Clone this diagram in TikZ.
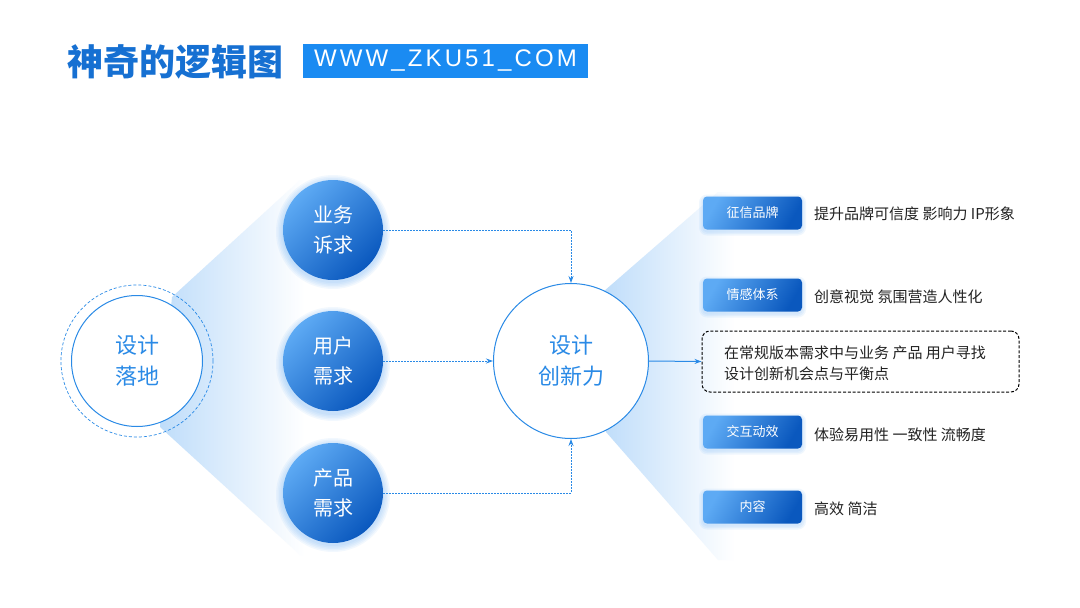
\documentclass[tikz,border=0pt]{standalone}
\usepackage{fontspec}
\setmainfont{Noto Sans CJK SC}
\newfontfamily\latinwide[LetterSpace=13]{Liberation Sans}
\usetikzlibrary{arrows.meta}
\definecolor{mainblue}{HTML}{2A8AE6}
\definecolor{lightb}{HTML}{5DAAF4}
\definecolor{darkb}{HTML}{0A58BE}
\definecolor{fanb}{HTML}{BFDDFA}
\definecolor{glowb}{HTML}{6FB2F5}
\definecolor{titleb}{HTML}{1670D2}
\definecolor{webb}{HTML}{1A8BF2}
\definecolor{txt}{HTML}{222222}
\tikzset{
  bcirc/.style={circle, minimum size=100, inner sep=0, top color=lightb, bottom color=darkb, shading angle=45, text=white, align=center, font=\fontsize{20}{30}\selectfont},
  wcirc/.style={circle, draw=mainblue, line width=1, fill=white, inner sep=0, text=mainblue, align=center, font=\fontsize{22}{31}\selectfont},
  tagbox/.style={rectangle, rounded corners=4, minimum width=99, minimum height=33, inner sep=0, top color=lightb, bottom color=darkb, shading angle=60, text=white, font=\fontsize{13}{15}\selectfont},
  desc/.style={anchor=west, inner sep=0, text=txt, font=\fontsize{15}{17}\selectfont},
  dotarrow/.style={draw=mainblue, line width=0.9, dash pattern=on 1.6 off 1.4, -{Stealth[length=7,width=5]}},
  solarrow/.style={draw=mainblue, line width=1, -{Stealth[length=7,width=5]}},
}
\begin{document}
\begin{tikzpicture}[x=1pt,y=1pt]
\useasboundingbox (0,0) rectangle (1080,-608);
\fill[white] (0,0) rectangle (1080,-608);

% title
\node[anchor=west, inner sep=0, text=titleb, font=\fontsize{36}{40}\selectfont\bfseries] (title) at (67,-62) {神奇的逻辑图};
\node[rectangle, fill=webb, minimum width=285, minimum height=34, inner sep=0, text=white, font=\latinwide\fontsize{24}{28}\selectfont] (web) at (445.5,-61) {WWW\_ZKU51\_COM};

% left fan
\shade[left color=fanb, right color=white, shading angle=90] (172,-297) -- (300,-180) -- (305,-180) -- (305,-555) -- (300,-555) -- (160,-427) -- cycle;
% right fan
\shade[left color=fanb, right color=white, shading angle=90] (603,-292) -- (718,-192) -- (735,-192) -- (735,-560) -- (718,-560) -- (606,-432) -- cycle;

% glows
\foreach \cy in {230,362,493}{
  \foreach \r in {51,52.5,54,55.5,57}{
    \fill[glowb, opacity=0.09] (333,-\cy-2) circle (\r);
  }
}
\foreach \ty in {213,295,432,507}{
  \foreach \d in {1,2.5,4}{
    \fill[glowb, opacity=0.1, rounded corners=4+\d] (703-\d,-\ty+16.5+\d-2) rectangle (802+\d,-\ty-16.5-\d-2);
  }
}

% left circle
\draw[mainblue, line width=0.7, dash pattern=on 3 off 2] (137,-361) circle (76);
\node[wcirc, minimum size=131] (ld) at (137,-361) {设计\\落地};

% blue circles
\node[bcirc] (yw) at (333,-230) {业务\\诉求};
\node[bcirc] (yh) at (333,-361) {用户\\需求};
\node[bcirc] (cp) at (333,-493) {产品\\需求};

% centre circle
\node[wcirc, minimum size=155] (cx) at (571,-361) {设计\\创新力};

% right tags
\node[tagbox] (t1) at (752.5,-213) {征信品牌};
\node[tagbox] (t2) at (752.5,-295) {情感体系};
\node[tagbox] (t3) at (752.5,-432) {交互动效};
\node[tagbox] (t4) at (752.5,-507) {内容};

\node[desc] (d1) at (814,-214) {提升品牌可信度 影响力 IP形象};
\node[desc] (d2) at (814,-297) {创意视觉 氛围营造人性化};
\node[desc] (d3) at (814,-435) {体验易用性 一致性 流畅度};
\node[desc] (d4) at (814,-509) {高效 简洁};

% dashed box
\node[draw=black, line width=1, dash pattern=on 3 off 1.8, rounded corners=8, minimum width=317, minimum height=61, inner sep=0] (db) at (860.5,-361.5) {};
\node[anchor=west, inner sep=0, align=left, text=txt, font=\fontsize{15}{21}\selectfont] (dbt) at (724,-363.5) {在常规版本需求中与业务 产品 用户寻找\\设计创新机会点与平衡点};

% connectors
\draw[dotarrow] (yw.east) -| (cx.north);
\draw[dotarrow] (yh.east) -- (cx.west);
\draw[dotarrow] (cp.east) -| (cx.south);
\draw[solarrow] (cx.east) -- (db.west);
\end{tikzpicture}
\end{document}
